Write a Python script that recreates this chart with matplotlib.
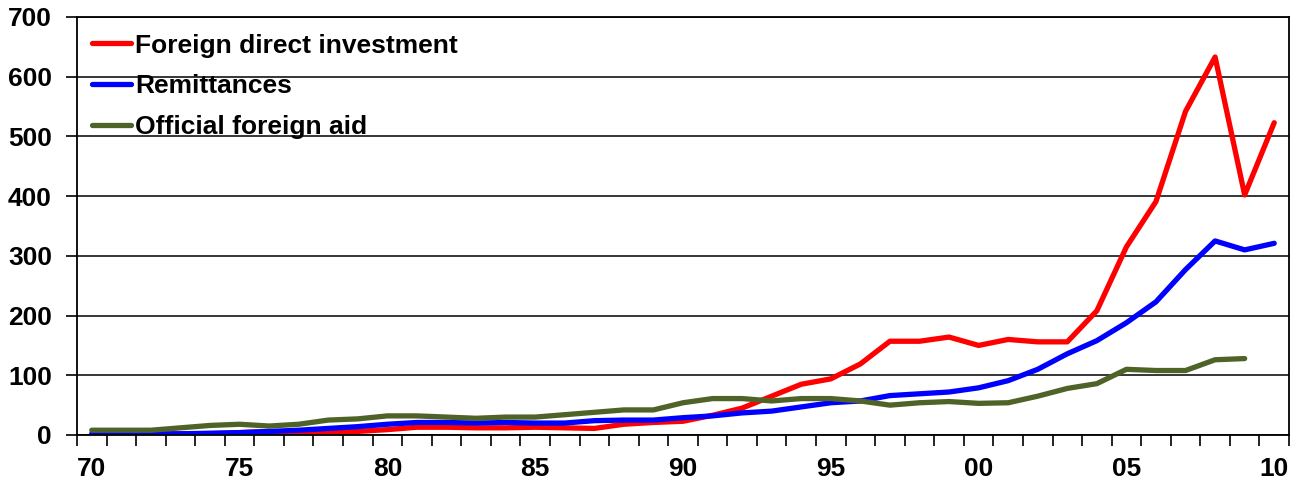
import numpy as np
import matplotlib
matplotlib.use("Agg")
import matplotlib.pyplot as plt

years = list(range(1970, 2011))
fdi = [1, 1, 1, 2, 2, 4, 6, 5, 5, 6, 9, 13, 13, 12, 12, 13, 12, 11, 18, 21,
       23, 33, 45, 65, 85, 94, 119, 157, 157, 164, 150, 160, 156, 156, 208,
       315, 391, 542, 633, 402, 523]
remit = [2, 2, 2, 2, 3, 4, 6, 8, 11, 14, 18, 21, 21, 20, 21, 20, 20, 24, 25, 25,
         29, 32, 37, 40, 47, 54, 57, 66, 69, 72, 79, 91, 110, 136, 158,
         188, 223, 277, 325, 310, 321]
aid = [8, 8, 8, 12, 16, 18, 15, 18, 25, 27, 32, 32, 30, 28, 30, 30, 34, 38, 42, 42,
       54, 61, 61, 57, 61, 61, 57, 50, 54, 56, 53, 54, 65, 78, 86,
       110, 108, 108, 126, 128, np.nan]
tick_labels = ["70", "75", "80", "85", "90", "95", "00", "05", "10"]

plt.rcParams['font.family'] = ['Liberation Sans', 'DejaVu Sans']
plt.rcParams['font.weight'] = 'bold'

fig = plt.figure(figsize=(12.92, 4.8), dpi=100)
ax = fig.add_axes([77/1292, 1-435/480, (1289-77)/1292, (435-17)/480])

x = np.arange(len(years))
ax.plot(x, fdi, color='#FF0000', lw=3.8, label='Foreign direct investment', solid_capstyle='round')
ax.plot(x, remit, color='#0000FF', lw=3.8, label='Remittances', solid_capstyle='round')
ax.plot(x, aid, color='#4F6228', lw=3.8, label='Official foreign aid', solid_capstyle='round')

ax.set_xlim(-0.5, len(years) - 0.5)
ax.set_ylim(0, 700)
ax.set_yticks(range(0, 701, 100))
ax.yaxis.grid(True, color='black', lw=1.1)
ax.set_axisbelow(True)

ax.set_xticks(np.arange(-0.5, len(years), 1.0))
ax.set_xticklabels([])
ax.tick_params(axis='x', which='major', direction='out', length=8, width=1.2, color='black')
ax.set_xticks(np.arange(0, len(years), 5), minor=True)
ax.set_xticklabels(tick_labels, minor=True)
ax.tick_params(axis='x', which='minor', length=0, pad=16, labelsize=19)
ax.tick_params(axis='y', direction='out', length=8, width=1.2, pad=10, labelsize=19)
for lab in ax.get_xticklabels(minor=True) + ax.get_yticklabels():
    lab.set_fontweight('bold')

for s in ax.spines.values():
    s.set_color('black')
    s.set_linewidth(1.3)

leg = ax.legend(loc='upper left', bbox_to_anchor=(0.012, 0.96), frameon=False,
                fontsize=19, handlelength=1.5, handletextpad=0.15,
                labelspacing=0.63, borderpad=0, borderaxespad=0)
for t in leg.get_texts():
    t.set_fontweight('bold')

fig.savefig('out.png', dpi=100)
